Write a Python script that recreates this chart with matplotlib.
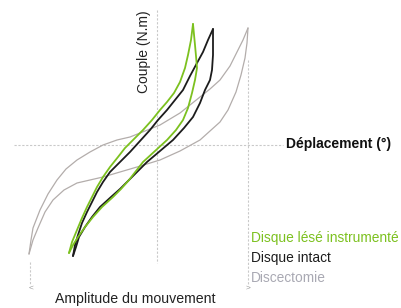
import matplotlib
matplotlib.use("Agg")
import matplotlib.pyplot as plt

plt.rcParams['font.family'] = ['Liberation Sans', 'DejaVu Sans']

# Series: x = displacement (deg, arbitrary units), y = torque (N.m, arbitrary units)
# Discectomie (grey)
disc_up_x = [-12.8, -12.6, -12.4, -11.7, -10.9, -10.0, -9.1, -8.0, -6.7, -5.4, -4.0, -2.7, -1.2, 0.3, 2.3, 4.3, 5.3, 6.3, 7.3, 8.0, 8.6, 9.1]
disc_up_y = [-10.9, -9.5, -8.3, -6.5, -4.9, -3.5, -2.4, -1.5, -0.7, 0.0, 0.5, 0.8, 1.4, 2.0, 3.2, 4.8, 5.6, 6.5, 7.9, 9.3, 10.5, 11.7]
disc_lo_x = [-12.8, -12.4, -11.9, -11.2, -10.4, -9.3, -8.0, -6.7, -5.4, -3.7, -2.0, 0.3, 2.3, 4.3, 5.3, 6.3, 7.1, 7.9, 8.4, 8.8, 9.0, 9.1]
disc_lo_y = [-10.9, -9.5, -8.3, -6.7, -5.5, -4.5, -3.8, -3.5, -3.2, -2.7, -2.2, -1.5, -0.6, 0.5, 1.4, 2.3, 3.5, 5.3, 7.0, 8.7, 10.2, 11.7]

# Disque intact (black)
intact_up_x = [-8.4, -8.2, -7.9, -7.5, -7.0, -6.5, -6.0, -5.4, -4.7, -3.7, -2.7, -1.7, -0.7, 0.1, 1.0, 1.8, 2.6, 3.3, 4.0, 4.6, 5.1, 5.6]
intact_up_y = [-11.1, -10.0, -9.0, -7.8, -6.7, -5.7, -4.7, -3.7, -2.7, -1.7, -0.7, 0.4, 1.5, 2.5, 3.5, 4.5, 5.5, 6.9, 8.2, 9.3, 10.5, 11.6]
intact_lo_x = [-8.4, -8.1, -7.8, -7.2, -6.5, -5.7, -4.6, -3.7, -2.8, -1.9, -1.0, 0.3, 1.6, 2.7, 3.6, 4.3, 4.8, 5.3, 5.5, 5.6, 5.6, 5.6]
intact_lo_y = [-11.1, -10.2, -9.2, -8.2, -7.2, -6.2, -5.2, -4.4, -3.5, -2.6, -1.7, -0.6, 0.5, 1.7, 2.8, 4.2, 5.5, 6.5, 7.5, 9.0, 10.3, 11.6]

# Disque lésé instrumenté (green)
lese_up_x = [-8.8, -8.5, -8.0, -7.5, -7.0, -6.5, -6.0, -5.4, -4.7, -3.9, -3.2, -2.3, -1.4, -0.5, 0.3, 1.0, 1.7, 2.3, 2.8, 3.1, 3.4, 3.6]
lese_up_y = [-10.8, -9.7, -8.5, -7.3, -6.2, -5.2, -4.2, -3.2, -2.2, -1.2, -0.3, 0.6, 1.5, 2.5, 3.5, 4.3, 5.2, 6.3, 7.7, 9.0, 10.5, 12.1]
lese_lo_x = [-8.8, -8.4, -7.9, -7.2, -6.4, -5.5, -4.4, -3.6, -2.8, -2.1, -1.4, -0.2, 1.0, 1.9, 2.6, 3.1, 3.5, 3.8, 4.0, 3.9, 3.8, 3.6]
lese_lo_y = [-10.8, -10.0, -9.2, -8.2, -7.2, -6.2, -5.2, -4.4, -3.5, -2.6, -1.7, -0.6, 0.5, 1.5, 2.5, 3.7, 5.2, 6.5, 7.7, 8.9, 10.0, 12.1]

labels = ["Disque lésé instrumenté", "Disque intact", "Discectomie"]
colors = ["#7cc11f", "#1c1c1c", "#b3adab"]
text_colors = ["#7cc11f", "#1c1c1c", "#a9a9b3"]

fig = plt.figure(figsize=(4.01, 3.08), dpi=100)
ax = fig.add_axes([0, 0, 1, 1])
ax.set_xlim(-15.7, 24.4)
ax.set_ylim(-16.3, 14.5)
ax.axis('off')

dash = dict(color="#c9c9c9", lw=0.8, dashes=(2, 1.5))
# axes (dashed)
ax.plot([-14.3, 12.6], [0, 0], **dash)
ax.plot([0, 0], [13.5, -11.8], **dash)
# amplitude bracket
ax.plot([9.1, 9.1], [8.5, -14.0], **dash)
ax.plot([-12.7, -12.7], [-11.7, -14.0], **dash)

# curves
ax.plot(disc_up_x, disc_up_y, color=colors[2], lw=0.9, solid_capstyle='round')
ax.plot(disc_lo_x, disc_lo_y, color=colors[2], lw=0.9, solid_capstyle='round')
ax.plot(intact_up_x, intact_up_y, color=colors[1], lw=1.3, solid_capstyle='round')
ax.plot(intact_lo_x, intact_lo_y, color=colors[1], lw=1.3, solid_capstyle='round')
ax.plot(lese_up_x, lese_up_y, color=colors[0], lw=1.3, solid_capstyle='round')
ax.plot(lese_lo_x, lese_lo_y, color=colors[0], lw=1.3, solid_capstyle='round')

W, H = 401.0, 308.0
def ft(px, py, s, **kw):
    fig.text(px / W, 1 - py / H, s, **kw)

ft(144, 52, "Couple (N.m)", rotation=90, ha='center', va='center', fontsize=10, color="#222222")
ft(286, 144, "Déplacement (°)", ha='left', va='center', fontsize=10, fontweight='bold', color="#111111")
ft(135, 299, "Amplitude du mouvement", ha='center', va='center', fontsize=10.2, color="#222222")
for i, (lab, c) in enumerate(zip(labels, text_colors)):
    ft(251, 238 + 20 * i, lab, ha='left', va='center', fontsize=9.9, color=c)

ft(31, 288, "<", ha='center', va='center', fontsize=6, color="#999999")
ft(248, 288, ">", ha='center', va='center', fontsize=6, color="#999999")

fig.savefig("out.png", dpi=100)
